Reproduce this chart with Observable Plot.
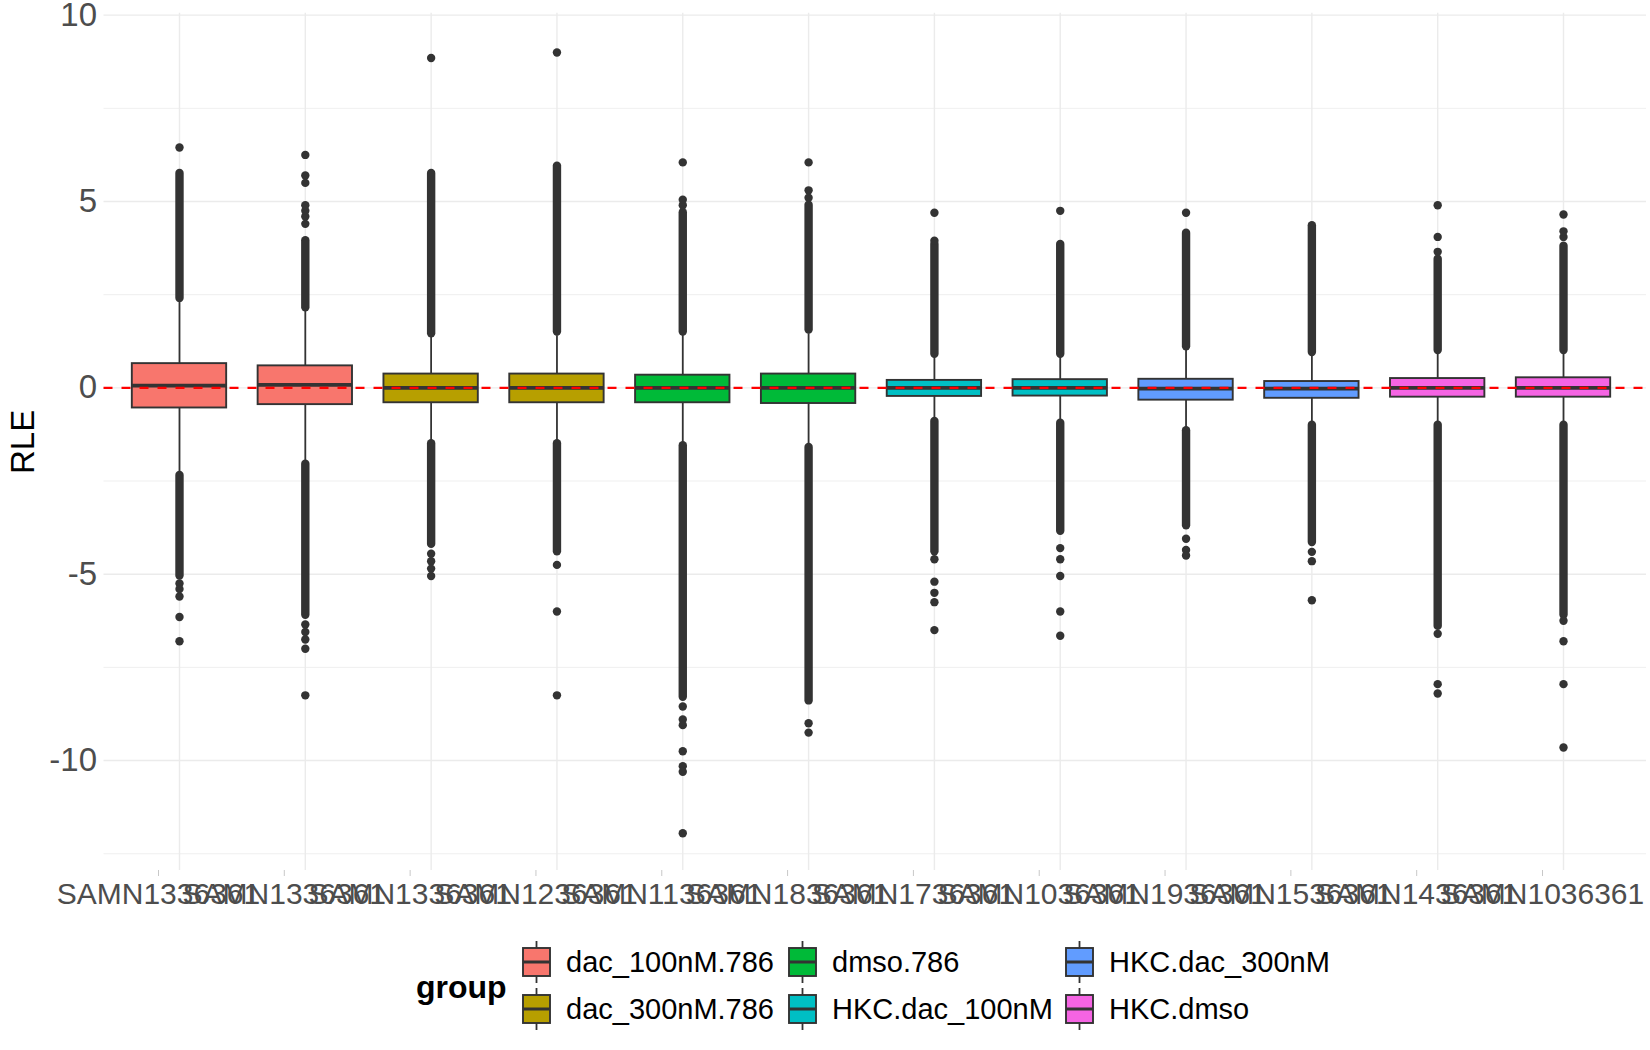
<!DOCTYPE html>
<html>
<head>
<meta charset="utf-8">
<script src="https://cdn.jsdelivr.net/npm/d3@7"></script>
<script src="https://cdn.jsdelivr.net/npm/@observablehq/plot@0.6"></script>
<style>
  html, body { margin: 0; padding: 0; background: #fff; overflow: hidden; }
  #chart { width: 1650px; }
  svg { display: block; }
</style>
</head>
<body>
<div id="chart"></div>
<script>
// ---------- data ----------
const sampleIndex = d3.range(12);
const sampleLabels = ["SAMN1336361","SAMN1336361","SAMN1336361","SAMN1236361","SAMN1136361","SAMN1836361",
                      "SAMN1736361","SAMN1036361","SAMN1936361","SAMN1536361","SAMN1436361","SAMN1036361"];
const groups = ["dac_100nM.786","dac_300nM.786","dmso.786","HKC.dac_100nM","HKC.dac_300nM","HKC.dmso"];
const groupColors = ["#F8766D","#B79F00","#00BA38","#00BFC4","#619CFF","#F564E3"];
const sampleGroup = [0,0,1,1,2,2,3,3,4,4,5,5];

const q1      = [-0.54,-0.45,-0.40,-0.40,-0.40,-0.42,-0.23,-0.22,-0.33,-0.28,-0.25,-0.25];
const median  = [ 0.06, 0.08, 0.00, 0.00, 0.00, 0.00, 0.00, 0.00,-0.02,-0.02, 0.00, 0.00];
const q3      = [ 0.65, 0.59, 0.37, 0.37, 0.34, 0.37, 0.20, 0.22, 0.23, 0.17, 0.25, 0.27];
const whiskerHigh = [2.35, 2.10, 1.40, 1.40, 1.45, 1.45, 0.85, 0.85, 1.05, 0.90, 0.95, 0.95];
const whiskerLow  = [-2.26,-2.00,-1.45,-1.45,-1.50,-1.55,-0.85,-0.90,-1.10,-0.95,-0.95,-0.95];
// dense runs of outliers (so many points that they merge into a streak)
const upperRunFrom = [2.40, 2.15, 1.45, 1.50, 1.50, 1.55, 0.90, 0.90, 1.10, 0.95, 1.00, 1.00];
const upperRunTo   = [5.75, 3.95, 5.75, 5.95, 4.70, 4.90, 3.85, 3.85, 4.15, 4.35, 3.45, 3.80];
const lowerRunFrom = [-2.35,-2.05,-1.50,-1.50,-1.55,-1.60,-0.90,-0.95,-1.15,-1.00,-1.00,-1.00];
const lowerRunTo   = [-5.05,-6.10,-4.20,-4.40,-8.30,-8.40,-4.40,-3.85,-3.70,-4.15,-6.40,-6.10];
// isolated outliers: [sample index, RLE]
const isolatedOutliers = [
  [0,6.45],[0,-5.25],[0,-5.4],[0,-5.6],[0,-6.15],[0,-6.8],
  [1,4.4],[1,4.6],[1,4.75],[1,4.9],[1,5.5],[1,5.7],[1,6.25],[1,-6.35],[1,-6.55],[1,-6.75],[1,-7.0],[1,-8.25],
  [2,8.85],[2,-4.45],[2,-4.65],[2,-4.85],[2,-5.05],
  [3,9.0],[3,-4.75],[3,-6.0],[3,-8.25],
  [4,4.9],[4,5.05],[4,6.05],[4,-8.55],[4,-8.9],[4,-9.05],[4,-9.75],[4,-10.15],[4,-10.3],[4,-11.95],
  [5,5.1],[5,5.3],[5,6.05],[5,-9.0],[5,-9.25],
  [6,3.95],[6,4.7],[6,-4.6],[6,-5.2],[6,-5.5],[6,-5.75],[6,-6.5],
  [7,4.75],[7,-4.3],[7,-4.6],[7,-5.05],[7,-6.0],[7,-6.65],
  [8,4.7],[8,-4.05],[8,-4.35],[8,-4.5],
  [9,-4.4],[9,-4.65],[9,-5.7],
  [10,3.65],[10,4.05],[10,4.9],[10,-6.6],[10,-7.95],[10,-8.2],
  [11,4.05],[11,4.2],[11,4.65],[11,-6.25],[11,-6.8],[11,-7.95],[11,-9.65]
];
const yMajorTicks = [-10,-5,0,5,10];
const yMinorTicks = [-12.5,-7.5,-2.5,2.5,7.5];
const yTitle = "RLE";
const legendTitle = "group";

// ---------- tables built from the arrays ----------
const rows = sampleIndex.map(i => ({
  i, group: groups[sampleGroup[i]],
  q1: q1[i], med: median[i], q3: q3[i], wLo: whiskerLow[i], wHi: whiskerHigh[i],
  upA: upperRunFrom[i], upB: upperRunTo[i], loA: lowerRunFrom[i], loB: lowerRunTo[i]
}));
const outRows = isolatedOutliers.map(([s, v]) => ({s, v}));

const FONT = "'Liberation Sans', Arial, Helvetica, sans-serif";
const INK = "#333333";

const chart = Plot.plot({
  width: 1650,
  height: 930,
  marginLeft: 103.5,
  marginRight: 4,
  marginTop: 12.8,
  marginBottom: 60,
  style: {fontFamily: FONT, fontSize: "33px", color: "#4D4D4D", background: "white", overflow: "visible"},
  x: {type: "band", domain: sampleIndex, range: [103.5, 1638.5], paddingInner: 0.25, paddingOuter: 0.225, round: false, label: null},
  y: {domain: [-12.95, 10.05], label: null},
  color: {domain: groups, range: groupColors},
  marks: [
    Plot.gridY(yMinorTicks, {stroke: "#EBEBEB", strokeOpacity: 1, strokeWidth: 0.8}),
    Plot.gridY(yMajorTicks, {stroke: "#EBEBEB", strokeOpacity: 1, strokeWidth: 1.4}),
    Plot.gridX(sampleIndex, {stroke: "#EBEBEB", strokeOpacity: 1, strokeWidth: 1.4}),
    Plot.axisY(yMajorTicks, {tickSize: 0, tickPadding: 7, tickFormat: d => String(d), fontSize: 33, fill: "#4D4D4D"}),
    Plot.axisX(sampleIndex, {tickSize: 6, tickPadding: 6, stroke: "#C8C8C8", tickFormat: i => sampleLabels[i], fontSize: 30, dx: -21, fill: "#4D4D4D"}),
    Plot.text([yTitle], {text: d => d, frameAnchor: "left", textAnchor: "middle", rotate: -90, dx: -81, fontSize: 33, fill: "black"}),
    // whiskers
    Plot.ruleX(rows, {x: "i", y1: "q3", y2: "wHi", stroke: INK, strokeWidth: 1.8}),
    Plot.ruleX(rows, {x: "i", y1: "q1", y2: "wLo", stroke: INK, strokeWidth: 1.8}),
    // dense outlier streaks
    Plot.ruleX(rows, {x: "i", y1: "upA", y2: "upB", stroke: INK, strokeWidth: 8.4, strokeLinecap: "round"}),
    Plot.ruleX(rows, {x: "i", y1: "loA", y2: "loB", stroke: INK, strokeWidth: 8.4, strokeLinecap: "round"}),
    // boxes
    Plot.barY(rows, {x: "i", y1: "q1", y2: "q3", fill: "group", stroke: INK, strokeWidth: 1.9}),
    Plot.tickY(rows, {x: "i", y: "med", stroke: INK, strokeWidth: 3.6}),
    // isolated outliers
    Plot.dot(outRows, {x: "s", y: "v", r: 4.2, fill: INK, stroke: "none"}),
    // reference line
    Plot.ruleY([0], {stroke: "#FF0000", strokeWidth: 2.2, strokeDasharray: "9,9"})
  ]
});
document.getElementById("chart").appendChild(chart);

// ---------- legend (below the plot) ----------
const legend = d3.select("#chart").append("svg")
  .attr("width", 1650).attr("height", 120)
  .style("font-family", FONT);
legend.append("text")
  .attr("x", 416).attr("y", 57).attr("dy", "0.35em")
  .attr("font-size", 32).attr("font-weight", "bold").attr("fill", "black")
  .text(legendTitle);
const colKeyX = [523, 789, 1066];
const colTextX = [566, 832, 1109];
const rowY = [32, 79];
groups.forEach((g, k) => {
  const col = Math.floor(k / 2), row = k % 2;
  const kx = colKeyX[col], cy = rowY[row];
  const gk = legend.append("g");
  gk.append("line").attr("x1", kx + 13.5).attr("x2", kx + 13.5).attr("y1", cy - 21).attr("y2", cy + 21)
    .attr("stroke", INK).attr("stroke-width", 1.8);
  gk.append("rect").attr("x", kx).attr("y", cy - 14).attr("width", 27).attr("height", 28)
    .attr("fill", groupColors[k]).attr("stroke", INK).attr("stroke-width", 1.9);
  gk.append("line").attr("x1", kx).attr("x2", kx + 27).attr("y1", cy).attr("y2", cy)
    .attr("stroke", INK).attr("stroke-width", 3);
  legend.append("text").attr("x", colTextX[col]).attr("y", cy).attr("dy", "0.35em")
    .attr("font-size", 29).attr("fill", "black").text(g);
});
</script>
</body>
</html>
